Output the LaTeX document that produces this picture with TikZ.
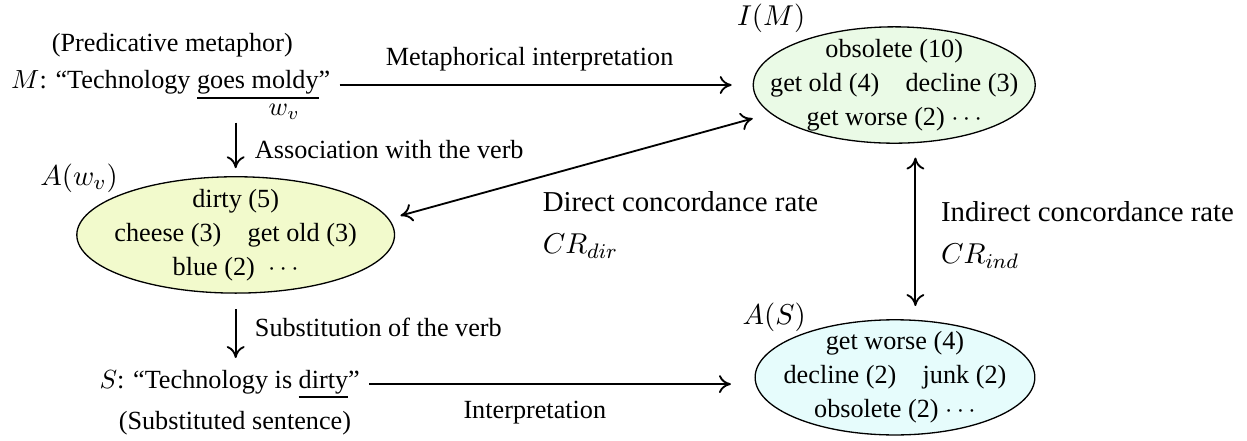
\documentclass[tikz,border=0pt]{standalone}
\usepackage{fontspec}
\setmainfont{Liberation Serif}
\usetikzlibrary{arrows.meta,positioning,shapes.geometric,calc}
\definecolor{imfill}{RGB}{234,250,230}
\definecolor{awfill}{RGB}{242,250,204}
\definecolor{asfill}{RGB}{230,252,252}
\newsavebox{\ulbox}
\newcommand{\thickul}[1]{\sbox{\ulbox}{#1}\rlap{\rule[-3.9pt]{\wd\ulbox}{0.9pt}}\usebox{\ulbox}}
\tikzset{
  ell/.style={draw,ellipse,line width=0.5pt,align=center,inner xsep=-10pt,inner ysep=-2pt},
  arr/.style={-{To[length=1.6mm,width=2.4mm]},line width=0.7pt},
  biarr/.style={{To[length=1.6mm,width=2.4mm]}-{To[length=1.6mm,width=2.4mm]},line width=0.7pt},
  lab/.style={inner sep=2pt},
  setlab/.style={font=\fontsize{11}{14}\selectfont},
  rate/.style={setlab,inner sep=2pt,anchor=west,align=left}
}
\begin{document}
\begin{tikzpicture}
\useasboundingbox (0,0) rectangle (16.72,-5.90);
% metaphor and its interpretation
\node (predm) at (2.31,-0.60) {(Predicative metaphor)};
\node (msent) at (2.29,-1.14) {$M$: ``Technology \thickul{goes moldy}''};
\node[inner sep=1pt] (wv) at (3.81,-1.50) {$w_v$};
\node[setlab] (imlab) at (10.34,-0.24) {$I(M)$};
\node[ell,fill=imfill,minimum width=3.78cm,minimum height=1.56cm] (imel) at (11.99,-1.14) {obsolete (10)\\[1pt]get old (4)\quad decline (3)\\[1pt]get worse (2) $\cdots$};
% associations of the verb
\node[setlab] (awlab) at (1.06,-2.39) {$A(w_v)$};
\node[ell,fill=awfill,minimum width=4.26cm,minimum height=1.56cm] (awel) at (3.16,-3.15) {dirty (5)\\[1pt]cheese (3)\quad get old (3)\\[1pt]blue (2)\enskip $\cdots$};
\node[rate] (dcr) at (7.20,-3.02) {Direct concordance rate\\[2pt]$CR_{dir}$};
\node[rate] (icr) at (12.54,-3.15) {Indirect concordance rate\\[2pt]$CR_{ind}$};
% substituted sentence
\node (ssent) at (3.08,-5.15) {$S$: ``Technology is \thickul{dirty}''};
\node (sslab) at (3.15,-5.68) {(Substituted sentence)};
\node[setlab] (aslab) at (10.38,-4.25) {$A(S)$};
\node[ell,fill=asfill,minimum width=3.75cm,minimum height=1.52cm] (asel) at (12.00,-5.06) {get worse (4)\\[1pt]decline (2)\quad junk (2)\\[1pt]obsolete (2) $\cdots$};
% connectors
\draw[arr,shorten >=8pt] (msent.east) -- node[lab,above=3pt,pos=0.46]{Metaphorical interpretation} (imel.west);
\draw[arr,shorten >=3pt] (awel.north |- wv.south) -- node[lab,right=5pt]{Association with the verb} (awel.north);
\draw[biarr,shorten <=4.5pt,shorten >=7pt] (awel.6) -- (imel.193);
\draw[biarr,shorten <=5.5pt,shorten >=5pt] (imel.-70) -- (imel.-70 |- asel.north);
\draw[arr,shorten <=6pt,shorten >=1pt] (awel.south) -- node[lab,right=5pt]{Substitution of the verb} (awel.south |- ssent.north);
\draw[arr,shorten >=9pt] (ssent.east) -- node[lab,below=4pt,pos=0.43]{Interpretation} (ssent.east -| asel.west);
\end{tikzpicture}
\end{document}
